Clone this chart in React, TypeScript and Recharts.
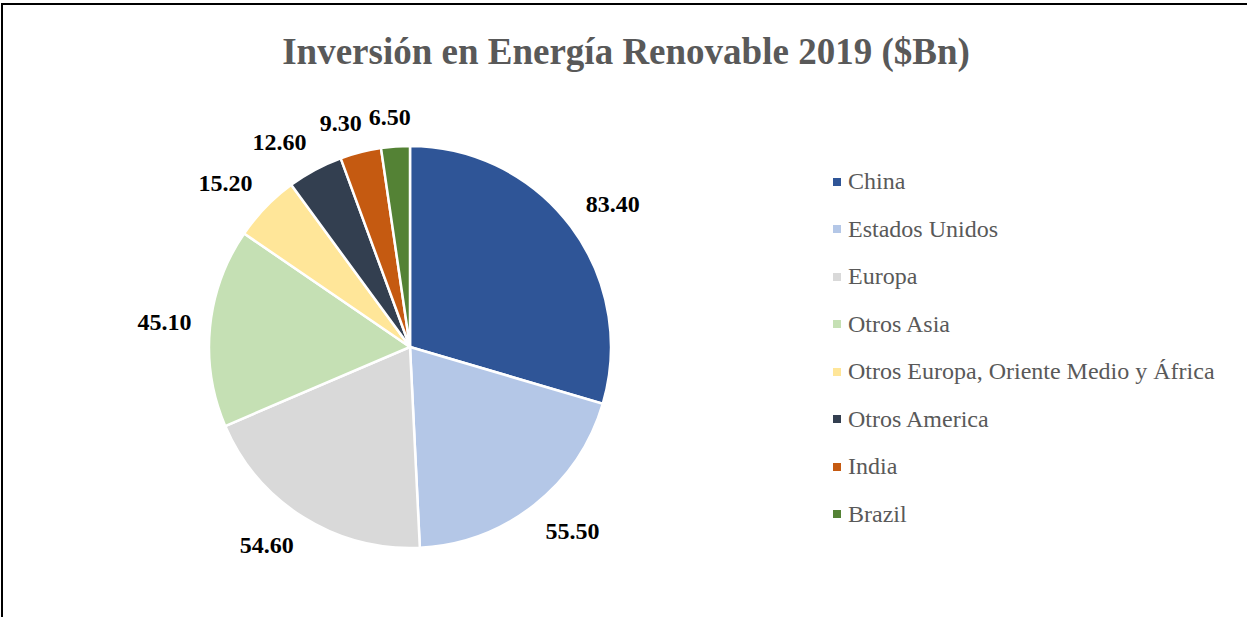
import { PieChart, Pie, Cell, Legend } from 'recharts';

const regions = [
  'China',
  'Estados Unidos',
  'Europa',
  'Otros Asia',
  'Otros Europa, Oriente Medio y África',
  'Otros America',
  'India',
  'Brazil',
];
const investment = [83.4, 55.5, 54.6, 45.1, 15.2, 12.6, 9.3, 6.5];
const sliceColors = ['#2F5597', '#B4C7E7', '#D9D9D9', '#C5E0B4', '#FFE699', '#333F50', '#C55A11', '#548235'];

const FONT = '"Liberation Serif", "Times New Roman", serif';
const RAD = Math.PI / 180;
const CX = 410;
const CY = 347;
const R = 201;
const LABEL_GAP = 19;
const HALF_H = 11;

const pieData = regions.map((name, i) => ({
  name,
  value: investment[i],
  fill: sliceColors[i],
}));

const labelText = investment.map((v) => v.toFixed(2));
const halfW = labelText.map((t) => (t.length - 1) * 6 + 2.5);

const softSign = (t: number) => Math.max(-1, Math.min(1, t * 3));

// "outside end" style: a point just past the rim, then the text box hangs off it
// on the outward side (corner touches the point, softened near the axes)
const labelPos = (angle: number, i: number) => {
  const dx = Math.cos(-angle * RAD);
  const dy = Math.sin(-angle * RAD);
  const r = R + LABEL_GAP;
  return {
    x: CX + r * dx + softSign(dx) * halfW[i],
    y: CY + r * dy + softSign(dy) * HALF_H,
  };
};

// start from each slice's mid angle, then nudge neighbours apart if boxes overlap
const total = investment.reduce((a, b) => a + b, 0);
const labelAngles: number[] = [];
let acc = 0;
investment.forEach((v) => {
  labelAngles.push(90 - ((acc + v / 2) / total) * 360);
  acc += v;
});
for (let iter = 0; iter < 400; iter++) {
  let moved = false;
  for (let i = 0; i < labelAngles.length - 1; i++) {
    const a = labelPos(labelAngles[i], i);
    const b = labelPos(labelAngles[i + 1], i + 1);
    const overlapX = Math.abs(a.x - b.x) < halfW[i] + halfW[i + 1] + 6;
    const overlapY = Math.abs(a.y - b.y) < HALF_H * 2 + 2;
    if (overlapX && overlapY) {
      labelAngles[i] += 0.15;
      labelAngles[i + 1] -= 0.05;
      moved = true;
    }
  }
  if (!moved) break;
}

const renderLabel = ({ index }: any) => {
  const p = labelPos(labelAngles[index], index);
  return (
    <text
      key={`lbl-${index}`}
      x={p.x}
      y={p.y}
      textAnchor="middle"
      dominantBaseline="central"
      fontFamily={FONT}
      fontWeight="bold"
      fontSize={24}
      fill="#000"
    >
      {labelText[index]}
    </text>
  );
};

const LegendList = () => (
  <div style={{ fontFamily: FONT }}>
    {pieData.map((d) => (
      <div key={d.name} style={{ display: 'flex', alignItems: 'center', height: 47.5 }}>
        <span style={{ width: 8, height: 8, background: d.fill, marginRight: 7, flexShrink: 0 }} />
        <span style={{ fontSize: 24, color: '#595959', whiteSpace: 'nowrap' }}>{d.name}</span>
      </div>
    ))}
  </div>
);

export default function App() {
  return (
    <div style={{ position: 'absolute', left: 0, top: 0, width: 1247, height: 617, overflow: 'hidden', background: '#fff' }}>
      {/* chart frame, right and bottom edges fall outside the picture */}
      <div style={{ position: 'absolute', left: 1, top: 3, width: 1300, height: 700, border: '2px solid #000' }} />
      <div
        style={{
          position: 'absolute',
          left: 0,
          top: 29,
          width: 1252,
          textAlign: 'center',
          fontFamily: FONT,
          fontWeight: 'bold',
          fontSize: 37,
          lineHeight: '46px',
          color: '#595959',
        }}
      >
        Inversión en Energía Renovable 2019 ($Bn)
      </div>
      <div style={{ position: 'absolute', left: 0, top: 0 }}>
        <PieChart width={1247} height={617} margin={{ top: 0, right: 0, bottom: 0, left: 0 }}>
          <Pie
            data={pieData}
            dataKey="value"
            nameKey="name"
            cx={CX}
            cy={CY}
            outerRadius={R}
            startAngle={90}
            endAngle={-270}
            stroke="#fff"
            strokeWidth={2.5}
            labelLine={false}
            label={renderLabel}
            isAnimationActive={false}
          >
            {pieData.map((d, i) => (
              <Cell key={`cell-${i}`} fill={d.fill} />
            ))}
          </Pie>
          <Legend
            layout="vertical"
            content={<LegendList />}
            wrapperStyle={{ position: 'absolute', left: 833, top: 158, width: 400 }}
          />
        </PieChart>
      </div>
    </div>
  );
}
